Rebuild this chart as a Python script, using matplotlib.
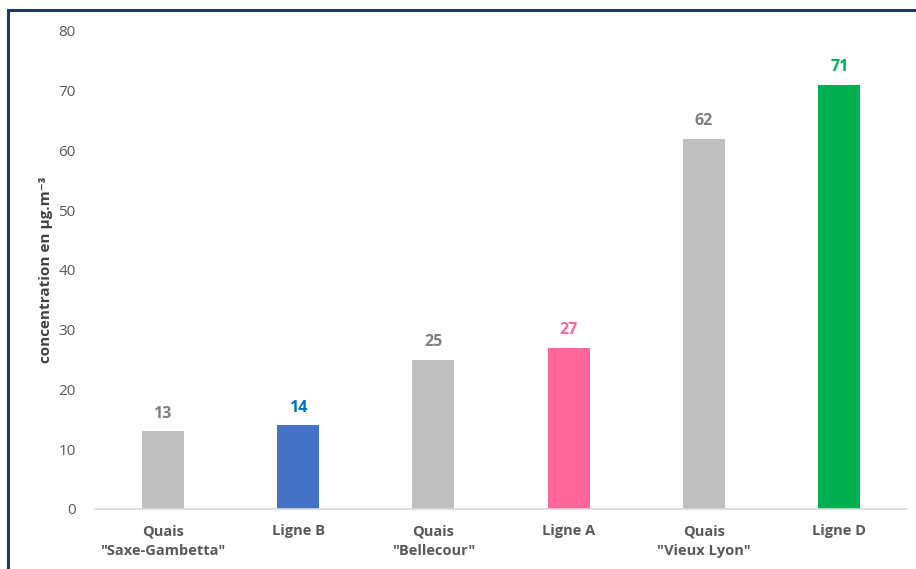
import matplotlib
matplotlib.use("Agg")
import matplotlib.pyplot as plt
from matplotlib.patches import Rectangle

categories = ['Quais\n"Saxe-Gambetta"', "Ligne B", 'Quais\n"Bellecour"',
              "Ligne A", 'Quais\n"Vieux Lyon"', "Ligne D"]
values = [13, 14, 25, 27, 62, 71]
bar_colors = ["#BFBFBF", "#4472C4", "#BFBFBF", "#FF6699", "#BFBFBF", "#00B050"]
label_colors = ["#7F7F7F", "#0070C0", "#7F7F7F", "#FF6699", "#7F7F7F", "#00B050"]
yticks = [0, 10, 20, 30, 40, 50, 60, 70, 80]

plt.rcParams["font.family"] = ["Open Sans", "DejaVu Sans"]

fig = plt.figure(figsize=(9.16, 5.69), dpi=100)
ax = fig.add_axes([95 / 916, 1 - 509 / 569, (907 - 95) / 916, (509 - 31) / 569])

x = range(len(categories))
bars = ax.bar(x, values, width=0.31, color=bar_colors, zorder=2)

for b, v, c in zip(bars, values, label_colors):
    ax.annotate(str(v), (b.get_x() + b.get_width() / 2, v),
                xytext=(0, 7), textcoords="offset points",
                ha="center", va="bottom", fontsize=11.5, fontweight="bold", color=c)

ax.set_xlim(-0.5, len(categories) - 0.5)
ax.set_ylim(0, 80)
ax.set_yticks(yticks)
ax.set_xticks(list(x))
ax.set_xticklabels(categories, fontsize=10.5, fontweight="bold", color="#595959",
                   linespacing=1.55)
ax.tick_params(axis="y", length=0, pad=14, labelsize=11, labelcolor="#595959")
ax.tick_params(axis="x", length=0, pad=11)

for s in ["top", "right", "left"]:
    ax.spines[s].set_visible(False)
ax.spines["bottom"].set_color("#D9D9D9")
ax.spines["bottom"].set_linewidth(1.2)

ax.set_ylabel("concentration en µg.m⁻³", fontsize=11, fontweight="bold",
              color="#404040", labelpad=4)

# outer frame of the chart area
frame = Rectangle((8 / 916, -0.2), 1.2, 1.2 - 9.5 / 569, transform=fig.transFigure,
                  fill=False, edgecolor="#1F3864", linewidth=2.2, zorder=10)
fig.patches.append(frame)

fig.savefig("out.png", dpi=100)
